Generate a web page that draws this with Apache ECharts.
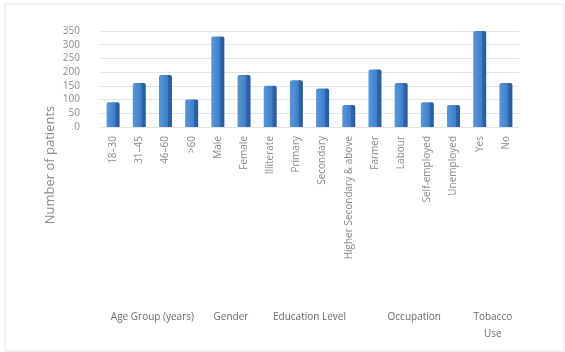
<!DOCTYPE html>
<html>
<head>
<meta charset="utf-8">
<script src="https://cdn.jsdelivr.net/npm/echarts@6/dist/echarts.min.js"></script>
<style>
  html, body { margin: 0; padding: 0; background: #fff; }
  #chart { width: 565px; height: 352px; }
</style>
</head>
<body>
<div id="chart"></div>
<script>
// categories and values
const categories = ['18–30', '31–45', '46–60', '>60', 'Male', 'Female', 'Illiterate', 'Primary',
  'Secondary', 'Higher Secondary & above', 'Farmer', 'Labour', 'Self-employed', 'Unemployed', 'Yes', 'No'];
const patients = [90, 160, 190, 100, 330, 190, 150, 170, 140, 80, 210, 160, 90, 80, 350, 160];
const groupNames = ['Age Group (years)', 'Gender', 'Education Level', 'Occupation', 'Tobacco\nUse'];
const groupSizes = [4, 2, 4, 4, 2];
const yTicks = [0, 50, 100, 150, 200, 250, 300, 350];

// centre of each group on a 0..16 value axis
const groupCentres = {};
let start = 0;
groupSizes.forEach((n, i) => {
  groupCentres[start + n / 2] = groupNames[i];
  start += n;
});

const chart = echarts.init(document.getElementById('chart'), null, {renderer: 'canvas'});

const font = 'Open Sans';
const grey = '#8a8a8a';

chart.setOption({
  animation: false,
  textStyle: {fontFamily: font},
  graphic: [
    {
      type: 'rect',
      shape: {x: 5, y: 4, width: 559, height: 347},
      style: {fill: 'none', stroke: '#e3e3e3', lineWidth: 1}
    },
    {
      type: 'text',
      x: 50, y: 165,
      rotation: Math.PI / 2,
      style: {
        text: 'Number of patients',
        fill: grey,
        font: '13px "Open Sans"',
        align: 'center',
        verticalAlign: 'middle'
      }
    }
  ],
  grid: {left: 100, right: 46, top: 31, height: 96},
  xAxis: [
    {
      type: 'category',
      data: categories,
      axisLine: {show: false},
      axisTick: {show: false},
      axisLabel: {
        rotate: 90,
        interval: 0,
        margin: 9,
        fontSize: 10,
        color: grey,
        fontFamily: font
      }
    },
    {
      type: 'value',
      position: 'bottom',
      min: 0,
      max: categories.length,
      interval: 1,
      offset: 174,
      axisLine: {show: false},
      axisTick: {show: false},
      splitLine: {show: false},
      axisLabel: {
        interval: 0,
        showMinLabel: true,
        showMaxLabel: true,
        fontSize: 10,
        color: '#6a6a6a',
        lineHeight: 17,
        verticalAlign: 'top',
        fontFamily: font,
        formatter: v => groupCentres[v] || ''
      }
    }
  ],
  yAxis: {
    type: 'value',
    min: 0,
    max: yTicks[yTicks.length - 1],
    interval: yTicks[1] - yTicks[0],
    axisLine: {show: false},
    axisTick: {show: false},
    axisLabel: {margin: 20, fontSize: 10, color: grey, fontFamily: font},
    splitLine: {lineStyle: {color: '#e4e4e4', width: 1}}
  },
  series: [{
    name: 'Number of patients',
    type: 'bar',
    data: patients,
    barWidth: 13,
    clip: false,
    itemStyle: {
      borderRadius: [2, 2, 0, 0],
      color: new echarts.graphic.LinearGradient(0, 0, 1, 0, [
        {offset: 0, color: '#5a97d8'},
        {offset: 0.65, color: '#3f7fcb'},
        {offset: 0.7, color: '#2f64a6'},
        {offset: 1, color: '#2a5a98'}
      ])
    }
  }]
});
</script>
</body>
</html>
